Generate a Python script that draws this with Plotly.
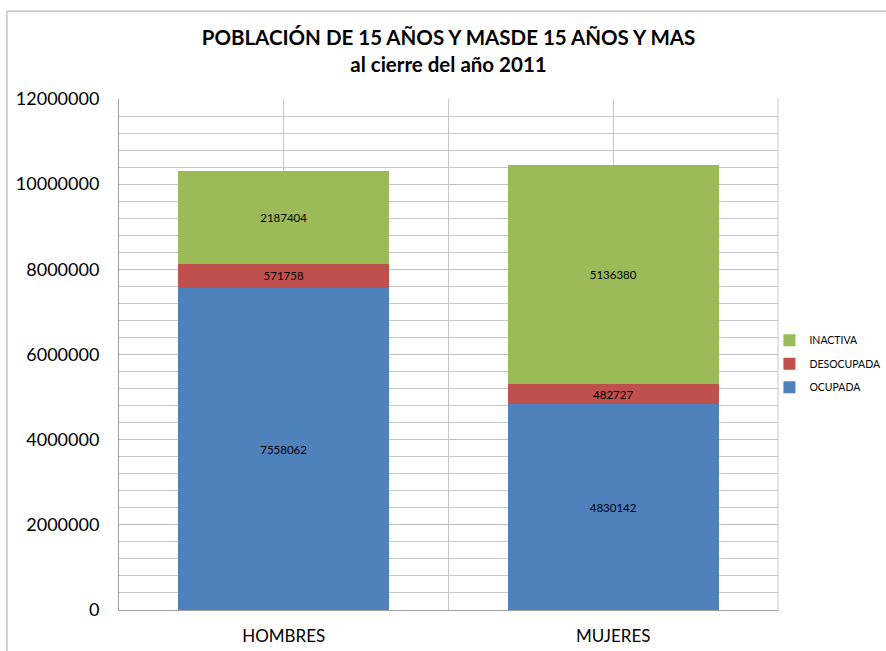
import plotly.graph_objects as go

categories = ["HOMBRES", "MUJERES"]
ocupada = [7558062, 4830142]
desocupada = [571758, 482727]
inactiva = [2187404, 5136380]
series_names = ["OCUPADA", "DESOCUPADA", "INACTIVA"]
legend_ranks = [3, 2, 1]
colors = ["#4F81BD", "#C0504D", "#9BBB59"]
y_ticks = [0, 2000000, 4000000, 6000000, 8000000, 10000000, 12000000]

xpos = list(range(len(categories)))
fig = go.Figure()
for name, vals, col, rk in zip(series_names, [ocupada, desocupada, inactiva], colors, legend_ranks):
    fig.add_trace(go.Bar(
        x=xpos, y=vals, name=name, legendgroup=name, legendrank=rk,
        marker=dict(color=col, line=dict(width=0)),
        text=[str(v) for v in vals], textposition="inside", insidetextanchor="middle",
        textangle=0, textfont=dict(family="Lato", size=11.5, color="black"),
        width=0.64,
    ))

fig.update_layout(
    barmode="stack",
    width=886, height=651,
    margin=dict(l=119, r=108, t=99, b=41, autoexpand=False),
    paper_bgcolor="white", plot_bgcolor="white",
    font=dict(family="Lato", color="black"),
    title=dict(text="<b>POBLACIÓN DE 15 AÑOS Y MASDE 15 AÑOS Y MAS<br>al cierre del año 2011</b>",
               x=0.5, xanchor="center", xref="paper", yref="container", y=0.931, yanchor="middle",
               font=dict(family="Lato", size=20.5, color="black")),
    showlegend=True,
    legend=dict(traceorder="grouped", x=0.987, xanchor="left", y=0.482, yanchor="middle",
                bgcolor="rgba(0,0,0,0)",
                font=dict(family="Lato", size=10.5, color="black"), itemwidth=30,
                tracegroupgap=4.5),
    xaxis=dict(range=[-0.5, 1.5], tickvals=xpos, ticktext=categories,
               showgrid=True, gridcolor="#C8C8C8", gridwidth=1,
               minor=dict(dtick=0.5, tick0=0, showgrid=True, gridcolor="#C8C8C8"),
               showline=True, linecolor="#A0A0A0", linewidth=1, mirror=False,
               tickfont=dict(family="Lato", size=17, color="black"), ticks="",
               ticklabelstandoff=11, zeroline=False, fixedrange=True),
    yaxis=dict(range=[0, 12000000], tickvals=y_ticks, ticktext=[str(v) for v in y_ticks],
               showgrid=True, gridcolor="#C0C0C0", gridwidth=1,
               minor=dict(dtick=400000, showgrid=True, gridcolor="#C8C8C8"),
               showline=True, linecolor="#A0A0A0", linewidth=1,
               tickfont=dict(family="Lato", size=18, color="black"), ticks="",
               ticklabelstandoff=15, zeroline=False, fixedrange=True),
)
# right border of plot area
fig.add_shape(type="line", xref="paper", yref="paper", x0=1, x1=1, y0=0, y1=1,
              line=dict(color="#C8C8C8", width=1))
# chart outer border (top and left)
fig.add_shape(type="line", xref="paper", yref="paper", x0=-0.170, x1=1.2, y0=1.172, y1=1.172,
              line=dict(color="#A6A6A6", width=1))
fig.add_shape(type="line", xref="paper", yref="paper", x0=-0.170, x1=-0.170, y0=1.172, y1=-0.1,
              line=dict(color="#A6A6A6", width=1))

fig.write_html("out.html", config={"displayModeBar": False},
               post_script="document.body.style.margin='0';document.body.style.overflow='hidden';")
